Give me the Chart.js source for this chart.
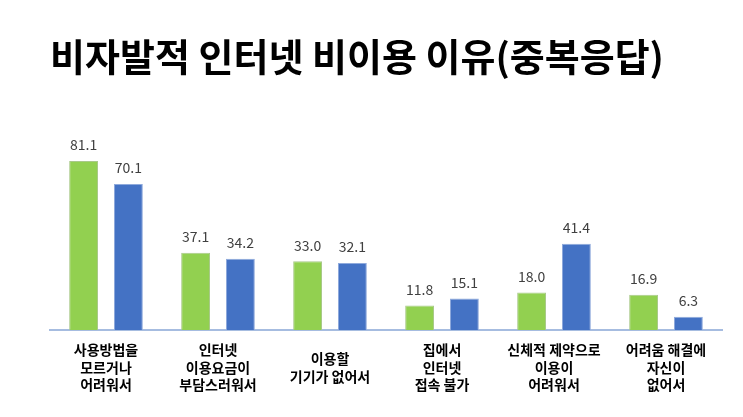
<!DOCTYPE html>
<html>
<head>
<meta charset="utf-8">
<script src="https://cdn.jsdelivr.net/npm/chart.js@4"></script>
<style>
  html, body { margin: 0; padding: 0; background: #fff; }
  #wrap { width: 743px; height: 417px; }
</style>
</head>
<body>
<div id="wrap"><canvas id="myChart"></canvas></div>
<script>
// 비자발적 인터넷 비이용 이유
const categories = [
    ['사용방법을', '모르거나', '어려워서'],
    ['인터넷', '이용요금이', '부담스러워서'],
    ['이용할', '기기가 없어서'],
    ['집에서', '인터넷', '접속 불가'],
    ['신체적 제약으로', '이용이', '어려워서'],
    ['어려움 해결에', '자신이', '없어서']
];
const seriesGreen = [81.1, 37.1, 33.0, 11.8, 18.0, 16.9];
const seriesBlue = [70.1, 34.2, 32.1, 15.1, 41.4, 6.3];

const fontKr = "'Noto Sans CJK KR', 'Noto Sans', sans-serif";

// 막대 위 값 표시
const valueLabels = {
    id: 'valueLabels',
    afterDatasetsDraw(chart) {
        const ctx = chart.ctx;
        ctx.save();
        ctx.font = '14px ' + fontKr;
        ctx.fillStyle = '#404040';
        ctx.textAlign = 'center';
        ctx.textBaseline = 'middle';
        chart.data.datasets.forEach((ds, i) => {
            chart.getDatasetMeta(i).data.forEach((bar, j) => {
                ctx.fillText(ds.data[j].toFixed(1), bar.x, bar.y - 16);
            });
        });
        ctx.restore();
    }
};

const ctx1 = document.getElementById('myChart');

new Chart(ctx1, {
    type: 'bar',
    data: {
        labels: categories,
        datasets: [{
            label: '2019',
            data: seriesGreen,
            backgroundColor: '#92D050',
            borderColor: '#A9C98A',
            borderWidth: 1,
            categoryPercentage: 0.80,
            barPercentage: 0.644
        }, {
            label: '2020',
            data: seriesBlue,
            backgroundColor: '#4472C4',
            borderColor: '#8FAADC',
            borderWidth: 1,
            categoryPercentage: 0.80,
            barPercentage: 0.644
        }]
    },
    plugins: [valueLabels],
    options: {
        responsive: true,
        maintainAspectRatio: false,
        animation: false,
        layout: {
            padding: { left: 50, right: 21, bottom: 0 }
        },
        plugins: {
            legend: { display: false },
            tooltip: { enabled: false },
            title: {
                display: true,
                text: '비자발적 인터넷 비이용 이유(중복응답)',
                align: 'start',
                color: '#000',
                font: { family: fontKr, size: 38, weight: 'bold', lineHeight: 1.2 },
                padding: { top: 34, bottom: 42 }
            }
        },
        scales: {
            x: {
                grid: { display: false, drawTicks: false },
                border: { display: true, color: '#A6BCE0', width: 2 },
                afterFit(scale) {
                    scale.height = 87;
                },
                ticks: {
                    color: '#000',
                    padding: 20,
                    maxRotation: 0,
                    autoSkip: false,
                    crossAlign: 'center',
                    font: { family: fontKr, size: 14, weight: 'bold', lineHeight: 1.25 }
                }
            },
            y: {
                display: false,
                min: 0,
                max: 100
            }
        }
    }
});
</script>
</body>
</html>
